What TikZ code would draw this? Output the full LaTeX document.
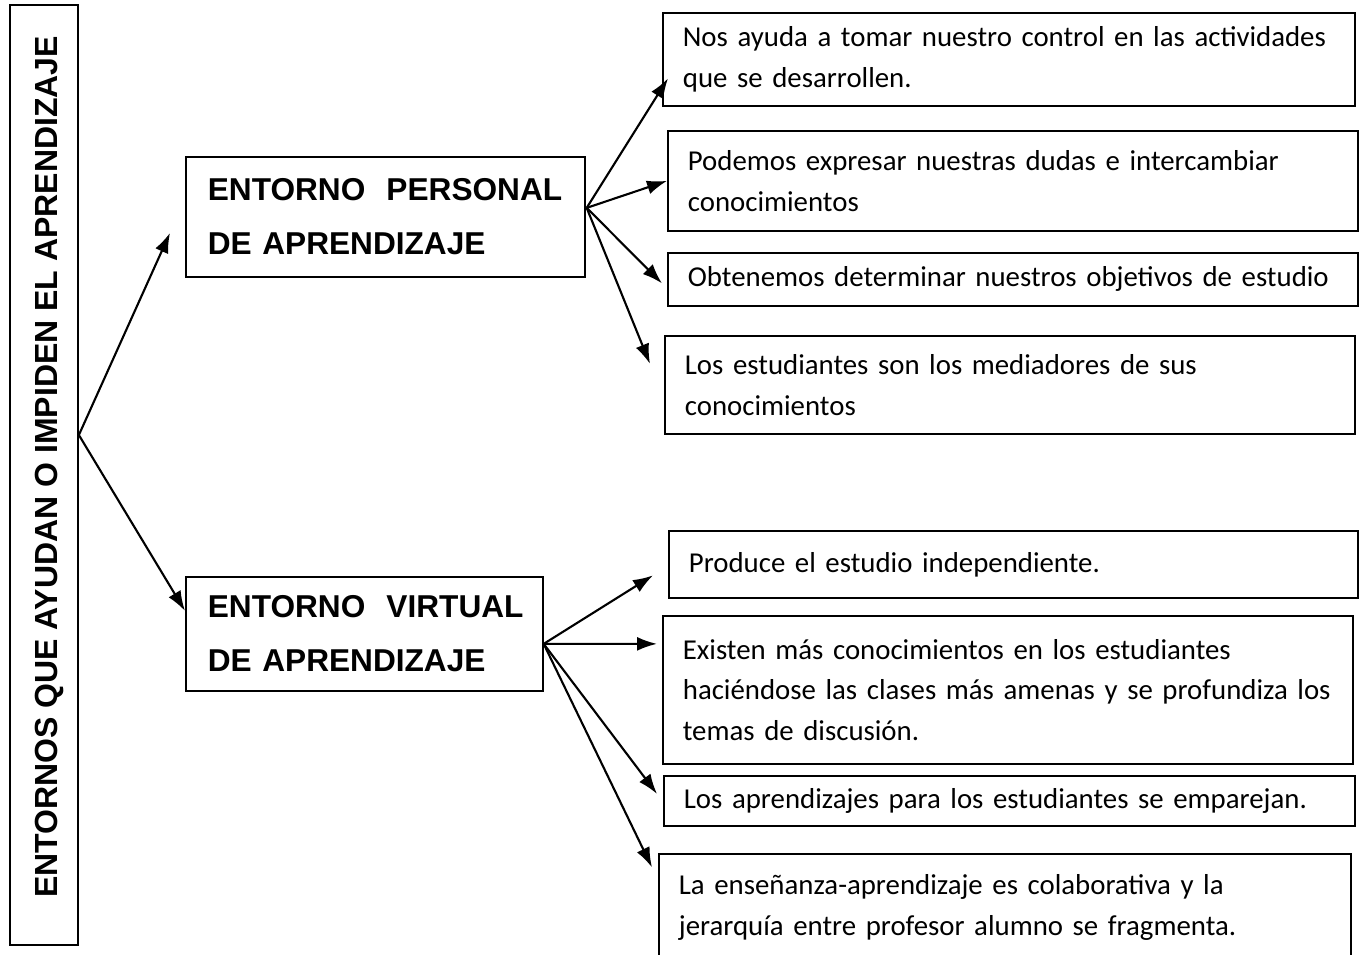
\documentclass[tikz,border=0pt]{standalone}
\usepackage{fontspec}
\usepackage{graphicx}
\setmainfont{Carlito}
\newfontfamily\arial{Liberation Sans}
\usetikzlibrary{arrows.meta,calc}
\newcommand{\cuerpo}{\fontsize{16.4}{23.2}\selectfont}
\newcommand{\titfont}{\arial\bfseries\fontsize{18}{30.6}\selectfont}
\begin{document}
\begin{tikzpicture}[x=0.02cm, y=-0.02cm, >={Latex[length=4mm,width=2.8mm]},
    caja/.style={draw, line width=1pt, anchor=north west, align=left,
        inner xsep=0.4cm, inner ysep=0pt, font=\cuerpo},
    titulo/.style={draw, line width=1pt, anchor=north west, align=left,
        inner xsep=0.44cm, inner ysep=0pt, font=\titfont},
    flecha/.style={->, line width=1.2pt}]
    \useasboundingbox (0,0) rectangle (1359,954);
    \clip (0,0) rectangle (1359,954);
    % caja vertical
    \node[draw, line width=1pt, minimum width=1.36cm, minimum height=18.8cm, inner sep=0pt]
        (lado) at (44,475) {\hspace*{0.2cm}\rotatebox{90}{\hspace*{0.32cm}\titfont\fontsize{18.2}{20}\selectfont ENTORNOS QUE AYUDAN O IMPIDEN EL APRENDIZAJE}};
    % entornos
    \node[titulo, text width=7.1cm, minimum height=2.4cm] (epa) at (185,156)
        {\mbox{ENTORNO\ \ PERSONAL}\\\mbox{DE APRENDIZAJE}};
    \node[titulo, text width=6.26cm, minimum height=2.28cm] (eva) at (185,576)
        {\mbox{ENTORNO\ \ VIRTUAL}\\\mbox{DE APRENDIZAJE}};
    % entorno personal
    \node[caja, text width=13.04cm, minimum height=1.86cm] (b1) at (662,12)
        {Nos ayuda a tomar nuestro control en las actividades\\que se desarrollen.};
    \node[caja, text width=13cm, minimum height=2cm] (b2) at (667,130)
        {Podemos expresar nuestras dudas e intercambiar\\conocimientos};
    \node[caja, text width=13cm, minimum height=1.06cm] (b3) at (667,252)
        {Obtenemos determinar nuestros objetivos de estudio};
    \node[caja, text width=13cm, minimum height=1.96cm] (b4) at (664,335)
        {Los estudiantes son los mediadores de sus\\conocimientos};
    % entorno virtual
    \node[caja, text width=12.98cm, minimum height=1.34cm] (b5) at (668,530)
        {Produce el estudio independiente.};
    \node[caja, text width=13cm, minimum height=2.96cm] (b6) at (662,615)
        {Existen más conocimientos en los estudiantes\\haciéndose las clases más amenas y se profundiza los\\temas de discusión.};
    \node[caja, text width=13.02cm, minimum height=1cm] (b7) at (663,775)
        {Los aprendizajes para los estudiantes se emparejan.};
    \node[caja, text width=13.04cm, minimum height=2.14cm] (b8) at (658,853)
        {La enseñanza-aprendizaje es colaborativa y la\\jerarquía entre profesor alumno se fragmenta.};
    % flechas
    \coordinate (o1) at ($(lado.east)+(0,-40)$);
    \draw[flecha] (o1) -- ($(epa.west)+(-15,16)$);
    \draw[flecha] (o1) -- ($(eva.west)+(0,-23)$);
    \coordinate (o2) at ($(epa.east)+(1,-9)$);
    \draw[flecha] (o2) -- ($(b1.west)+(6,19)$);
    \draw[flecha] (o2) -- (b2.west);
    \draw[flecha] (o2) -- ($(b3.west)+(-5,4)$);
    \draw[flecha] (o2) -- ($(b4.west)+(-14,-21)$);
    \coordinate (o3) at ($(eva.east)+(0,10)$);
    \draw[flecha] (o3) -- ($(b5.west)+(-15,11)$);
    \draw[flecha] (o3) -- ($(b6.west)+(-5,-46)$);
    \draw[flecha] (o3) -- ($(b7.west)+(-6,-7)$);
    \draw[flecha] (o3) -- ($(b8.west)+(-6,-40)$);
\end{tikzpicture}
\end{document}
